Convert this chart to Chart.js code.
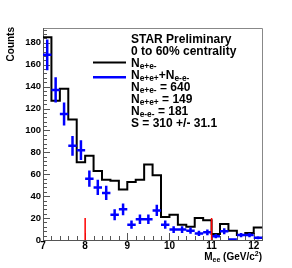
<!DOCTYPE html>
<html>
<head>
<meta charset="utf-8">
<script src="https://cdn.jsdelivr.net/npm/chart.js@4/dist/chart.umd.min.js"></script>
<style>
html,body{margin:0;padding:0;background:#fff;}
#wrap{width:292px;height:268px;position:relative;}
</style>
</head>
<body>
<div id="wrap"><canvas id="c" width="292" height="268"></canvas></div>
<script>
// ---- data ----
const binEdges = [7.0,7.2,7.4,7.6,7.8,8.0,8.2,8.4,8.6,8.8,9.0,9.2,9.4,9.6,9.8,10.0,10.2,10.4,10.6,10.8,11.0,11.2,11.4,11.6,11.8,12.0,12.2];
const unlikeSign = [185,127,138,110,71,77,63,55,54,46,53,55,69,59,21,23,14,12,20,18,5.5,14.5,8.5,4.5,6.5,11.5];
const binCenters = [7.1,7.3,7.5,7.7,7.9,8.1,8.3,8.5,8.7,8.9,9.1,9.3,9.5,9.7,9.9,10.1,10.3,10.5,10.7,10.9,11.1,11.3,11.5,11.7,11.9,12.1];
const likeSign = [169,137,115,86,82,56,48,43,23,28,14,19,19,27,14,9.5,9.5,8.5,6,7,3.5,8,0.5,4.5,4.5,2];
const likeSignErr = [14,11.5,10.5,9,9,7.5,7,6.5,5,5.3,3.7,4.3,4.3,5.2,3.7,3,3,2.9,2.4,2.6,1.9,2.8,0.7,2,2,1.4];
const massWindow = [8, 11];
const massWindowHeight = 20;
const xTickLabels = ['7','8','9','10','11','12'];
const yTickLabels = ['0','20','40','60','80','100','120','140','160','180'];

const FONT = '"Liberation Sans", Arial, Helvetica, sans-serif';

const histData = binEdges.map((e, i) => ({x: e, y: unlikeSign[Math.min(i, unlikeSign.length - 1)]}));
const blueData = binCenters.map((c, i) => ({x: c, y: likeSign[i]}));

function rich(ctx, parts, x, y, size) {
  let cx = x;
  for (const p of parts) {
    const t = p[0], kind = p[1] || 'n';
    let fs = size, dy = 0;
    if (kind === 'sub') { fs = size * 0.7; dy = size * 0.22; }
    if (kind === 'sup') { fs = size * 0.7; dy = -size * 0.42; }
    ctx.font = 'bold ' + fs + 'px ' + FONT;
    ctx.fillText(t, cx, y + dy);
    cx += ctx.measureText(t).width;
  }
  return cx - x;
}
function richWidth(ctx, parts, size) {
  let w = 0;
  for (const p of parts) {
    const kind = p[1] || 'n';
    const fs = kind === 'n' ? size : size * 0.7;
    ctx.font = 'bold ' + fs + 'px ' + FONT;
    w += ctx.measureText(p[0]).width;
  }
  return w;
}

const legendLines = [
  [['STAR Preliminary']],
  [['0 to 60% centrality']],
  [['N'],['e+e-','sub']],
  [['N'],['e+e+','sub'],['+N'],['e-e-','sub']],
  [['N'],['e+e-','sub'],[' = 640']],
  [['N'],['e+e+','sub'],[' = 149']],
  [['N'],['e-e-','sub'],[' = 181']],
  [['S = 310 +/- 31.1']]
];

const decor = {
  id: 'decor',
  beforeDatasetsDraw(chart) {
    const ctx = chart.ctx, a = chart.chartArea;
    const xs = chart.scales.x, ys = chart.scales.y;
    ctx.save();
    // frame
    ctx.strokeStyle = '#888';
    ctx.lineWidth = 1;
    ctx.beginPath();
    ctx.moveTo(a.left + 0.5, a.top + 0.5);
    ctx.lineTo(a.right - 0.5, a.top + 0.5);
    ctx.lineTo(a.right - 0.5, a.bottom - 0.5);
    ctx.stroke();
    ctx.strokeStyle = '#555';
    ctx.beginPath();
    ctx.moveTo(a.left + 0.5, a.top);
    ctx.lineTo(a.left + 0.5, a.bottom + 0.5);
    ctx.lineTo(a.right, a.bottom + 0.5);
    ctx.stroke();
    // y ticks (inward)
    ctx.beginPath();
    for (let v = 0; v <= ys.max + 0.001; v += 4) {
      const py = Math.round(ys.getPixelForValue(v)) + 0.5;
      const len = (Math.abs(v % 20) < 0.01) ? 7 : 4;
      ctx.moveTo(a.left, py); ctx.lineTo(a.left + len, py);
    }
    // x ticks (inward)
    for (let k = 0; k <= 26; k++) {
      const v = 7 + k * 0.2;
      if (v > xs.max) break;
      const px = Math.round(xs.getPixelForValue(v)) + 0.5;
      const len = (k % 5 === 0) ? 7 : 4;
      ctx.moveTo(px, a.bottom); ctx.lineTo(px, a.bottom - len);
    }
    ctx.stroke();
    ctx.restore();
  },
  afterDatasetsDraw(chart) {
    const ctx = chart.ctx, a = chart.chartArea;
    const xs = chart.scales.x, ys = chart.scales.y;
    ctx.save();
    ctx.beginPath();
    ctx.rect(a.left, a.top, a.right - a.left, a.bottom - a.top);
    ctx.clip();
    // like-sign error crosses
    ctx.strokeStyle = '#0000ff';
    ctx.lineWidth = 2.5;
    ctx.beginPath();
    const ds = chart.data.datasets[1].data;
    ds.forEach((p, i) => {
      const e = likeSignErr[i];
      const px = xs.getPixelForValue(p.x), py = ys.getPixelForValue(p.y);
      ctx.moveTo(px, ys.getPixelForValue(p.y - e));
      ctx.lineTo(px, ys.getPixelForValue(p.y + e));
      ctx.moveTo(xs.getPixelForValue(p.x - 0.1), py);
      ctx.lineTo(xs.getPixelForValue(p.x + 0.1), py);
    });
    ctx.stroke();
    // mass window lines
    ctx.strokeStyle = '#ff0000';
    ctx.lineWidth = 1.5;
    ctx.beginPath();
    massWindow.forEach(m => {
      const px = xs.getPixelForValue(m);
      ctx.moveTo(px, ys.getPixelForValue(0));
      ctx.lineTo(px, ys.getPixelForValue(massWindowHeight));
    });
    ctx.stroke();
    ctx.restore();

    // legend / text block
    ctx.save();
    ctx.fillStyle = '#000';
    ctx.textBaseline = 'alphabetic';
    ctx.textAlign = 'left';
    const base = [42.5, 54.5, 66.5, 78.5, 90.5, 102.5, 114.5, 126.5];
    legendLines.forEach((ln, i) => rich(ctx, ln, 131, base[i], 12));
    ctx.lineWidth = 2;
    ctx.strokeStyle = '#000';
    ctx.beginPath(); ctx.moveTo(93, 62.5); ctx.lineTo(126, 62.5); ctx.stroke();
    ctx.lineWidth = 2.5;
    ctx.strokeStyle = '#0000ff';
    ctx.beginPath(); ctx.moveTo(93, 77.3); ctx.lineTo(126, 77.3); ctx.stroke();

    // x title
    const xt = [['M'],['ee','sub'],[' (GeV/c'],['2','sup'],[')']];
    const w = richWidth(ctx, xt, 10);
    ctx.fillStyle = '#000';
    rich(ctx, xt, 262 - w, 260, 10);
    // y title
    ctx.translate(14, 27);
    ctx.rotate(-Math.PI / 2);
    ctx.textAlign = 'right';
    ctx.font = 'bold 10px ' + FONT;
    ctx.fillText('Counts', 0, 0);
    ctx.restore();
  }
};

new Chart(document.getElementById('c'), {
  type: 'line',
  data: {
    datasets: [
      {
        label: 'N e+e-',
        data: histData,
        stepped: 'before',
        borderColor: '#000',
        borderWidth: 2,
        pointRadius: 0,
        fill: false
      },
      {
        label: 'N e+e+ + N e-e-',
        type: 'scatter',
        data: blueData,
        borderColor: '#0000ff',
        backgroundColor: '#0000ff',
        pointRadius: 0,
        showLine: false
      }
    ]
  },
  options: {
    responsive: false,
    animation: false,
    events: [],
    layout: { padding: { top: 28, right: 29, left: 0, bottom: 0 } },
    plugins: { legend: { display: false }, tooltip: { enabled: false } },
    scales: {
      x: {
        type: 'linear',
        min: 7, max: 12.22,
        grid: { display: false, drawTicks: false },
        border: { display: false },
        afterFit(s) { s.height = 28; },
        afterBuildTicks(s) { s.ticks = xTickLabels.map(t => ({value: parseFloat(t)})); },
        ticks: {
          autoSkip: false, maxRotation: 0, padding: 0,
          color: '#000',
          font: { family: FONT, size: 10, weight: 'bold' },
          callback: (v) => String(v)
        }
      },
      y: {
        type: 'linear',
        min: 0, max: 193.5,
        grid: { display: false, drawTicks: false },
        border: { display: false },
        afterFit(s) { s.width = 43; },
        afterBuildTicks(s) { s.ticks = yTickLabels.map(t => ({value: parseFloat(t)})); },
        ticks: {
          padding: 2,
          color: '#000',
          font: { family: FONT, size: 9.5, weight: 'bold' },
          callback: (v) => String(v)
        }
      }
    }
  },
  plugins: [decor]
});
</script>
</body>
</html>
